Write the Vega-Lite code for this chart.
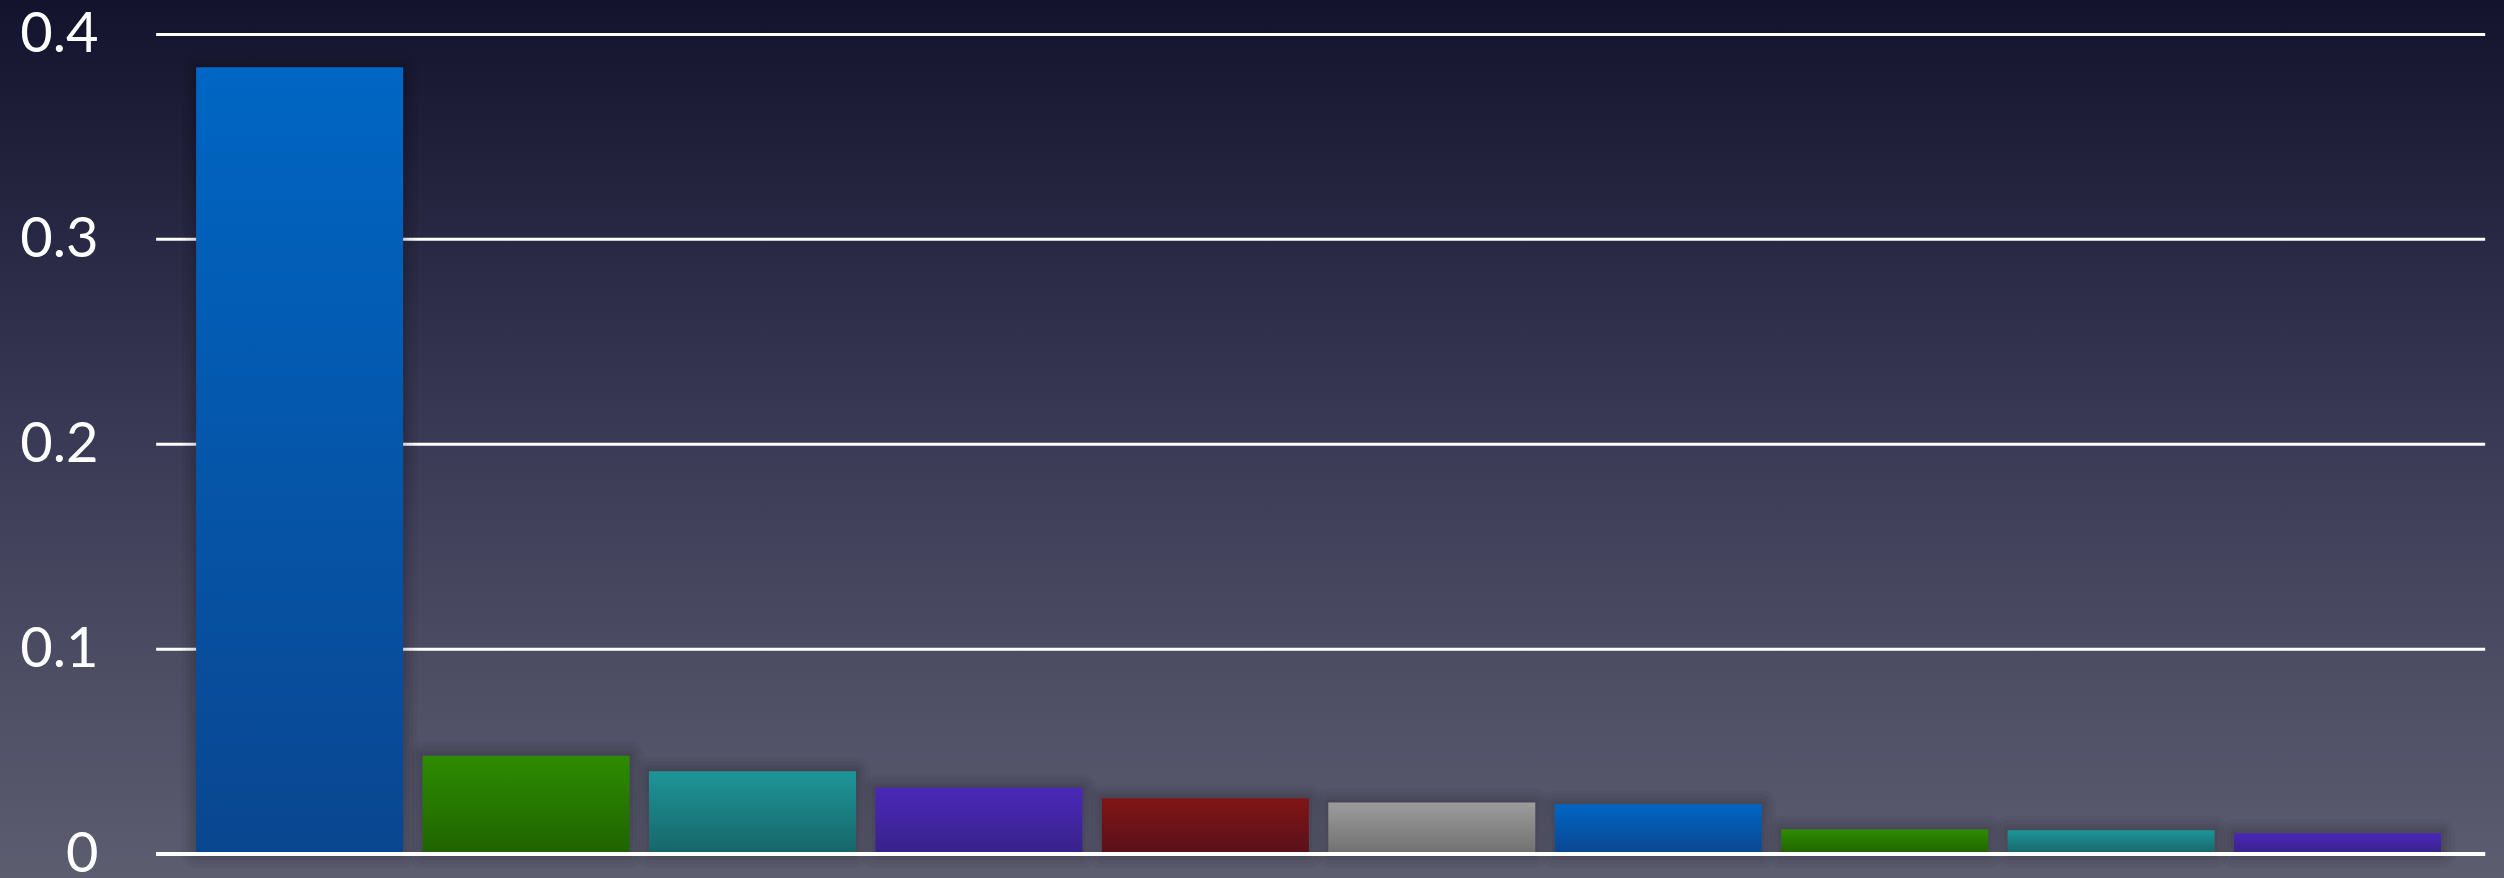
{
  "$schema": "https://vega.github.io/schema/vega-lite/v6.json",
  "width": 2504,
  "height": 878,
  "autosize": {"type": "none"},
  "padding": 0,
  "background": "#3a3a55",
  "view": {
    "stroke": null,
    "fill": {
      "gradient": "linear", "x1": 0, "y1": 0, "x2": 0, "y2": 1,
      "stops": [
        {"offset": 0, "color": "#13132e"},
        {"offset": 0.5, "color": "#3a3a56"},
        {"offset": 1, "color": "#5d5d70"}
      ]
    }
  },
  "datasets": {
    "bars": [
      {"cat": "A", "value": 0.384},
      {"cat": "B", "value": 0.048},
      {"cat": "C", "value": 0.0404},
      {"cat": "D", "value": 0.0324},
      {"cat": "E", "value": 0.0272},
      {"cat": "F", "value": 0.0252},
      {"cat": "G", "value": 0.0243},
      {"cat": "H", "value": 0.012},
      {"cat": "I", "value": 0.0116},
      {"cat": "J", "value": 0.0101}
    ],
    "grid": [{"v": 0}, {"v": 0.1}, {"v": 0.2}, {"v": 0.3}, {"v": 0.4}]
  },
  "encoding": {
    "x": {
      "field": "cat", "type": "nominal",
      "scale": {"type": "band", "paddingInner": 0.0857, "paddingOuter": 0.572, "align": 0.757, "domain": ["A","B","C","D","E","F","G","H","I","J"]},
      "axis": null
    },
    "y": {
      "field": "value", "type": "quantitative",
      "scale": {"domain": [-0.0117, 0.4168], "nice": false, "zero": false},
      "axis": {
        "orient": "left", "values": [0, 0.1, 0.2, 0.3, 0.4], "format": "~g",
        "grid": false, "domain": false, "ticks": false, "tickSize": 0,
        "labelPadding": -98, "labelFont": "Lato", "labelFontSize": 56,
        "labelColor": "#ffffff", "title": null, "labelAlign": "right", "labelBaseline": "middle"
      }
    }
  },
  "layer": [
    {
      "data": {"name": "grid"},
      "mark": {"type": "rule", "color": "#ffffff", "strokeWidth": 3},
      "encoding": {
        "y": {"field": "v", "type": "quantitative"},
        "x": {"datum": "A", "bandPosition": -0.193},
        "x2": {"datum": "J", "bandPosition": 1.213}
      }
    },
    {
      "data": {"name": "bars"},
      "mark": {"type": "bar", "fill": "#000000", "fillOpacity": 0, "stroke": "#000000", "strokeOpacity": 0.035, "strokeWidth": 28, "strokeJoin": "round", "y2Offset": -14}
    },
    {
      "data": {"name": "bars"},
      "mark": {"type": "bar", "fill": "#000000", "fillOpacity": 0, "stroke": "#000000", "strokeOpacity": 0.04, "strokeWidth": 20, "strokeJoin": "round", "y2Offset": -10}
    },
    {
      "data": {"name": "bars"},
      "mark": {"type": "bar", "fill": "#000000", "fillOpacity": 0, "stroke": "#000000", "strokeOpacity": 0.045, "strokeWidth": 12, "strokeJoin": "round", "y2Offset": -6}
    },
    {
      "data": {"name": "bars"},
      "mark": {"type": "bar", "fill": "#000000", "fillOpacity": 0, "stroke": "#000000", "strokeOpacity": 0.05, "strokeWidth": 6, "strokeJoin": "round", "y2Offset": -3}
    },
    {
      "data": {"name": "bars"},
      "transform": [{"filter": {"field": "cat", "oneOf": ["A", "G"]}}],
      "mark": {"type": "bar", "color": {"gradient": "linear", "x1": 0, "y1": 0, "x2": 0, "y2": 1, "stops": [{"offset": 0, "color": "#0066c4"}, {"offset": 1, "color": "#0a4690"}]}}
    },
    {
      "data": {"name": "bars"},
      "transform": [{"filter": {"field": "cat", "oneOf": ["B", "H"]}}],
      "mark": {"type": "bar", "color": {"gradient": "linear", "x1": 0, "y1": 0, "x2": 0, "y2": 1, "stops": [{"offset": 0, "color": "#2d8c00"}, {"offset": 1, "color": "#1f6300"}]}}
    },
    {
      "data": {"name": "bars"},
      "transform": [{"filter": {"field": "cat", "oneOf": ["C", "I"]}}],
      "mark": {"type": "bar", "color": {"gradient": "linear", "x1": 0, "y1": 0, "x2": 0, "y2": 1, "stops": [{"offset": 0, "color": "#1e9598"}, {"offset": 1, "color": "#176568"}]}}
    },
    {
      "data": {"name": "bars"},
      "transform": [{"filter": {"field": "cat", "oneOf": ["D", "J"]}}],
      "mark": {"type": "bar", "color": {"gradient": "linear", "x1": 0, "y1": 0, "x2": 0, "y2": 1, "stops": [{"offset": 0, "color": "#4a28b8"}, {"offset": 1, "color": "#37228a"}]}}
    },
    {
      "data": {"name": "bars"},
      "transform": [{"filter": {"field": "cat", "oneOf": ["E"]}}],
      "mark": {"type": "bar", "color": {"gradient": "linear", "x1": 0, "y1": 0, "x2": 0, "y2": 1, "stops": [{"offset": 0, "color": "#821515"}, {"offset": 1, "color": "#58101a"}]}}
    },
    {
      "data": {"name": "bars"},
      "transform": [{"filter": {"field": "cat", "oneOf": ["F"]}}],
      "mark": {"type": "bar", "color": {"gradient": "linear", "x1": 0, "y1": 0, "x2": 0, "y2": 1, "stops": [{"offset": 0, "color": "#9b9c9b"}, {"offset": 1, "color": "#6f706f"}]}}
    },
    {
      "data": {"values": [{"v": 0}]},
      "mark": {"type": "rule", "color": "#ffffff", "strokeWidth": 4},
      "encoding": {
        "y": {"field": "v", "type": "quantitative"},
        "x": {"datum": "A", "bandPosition": -0.193},
        "x2": {"datum": "J", "bandPosition": 1.213}
      }
    }
  ]
}
